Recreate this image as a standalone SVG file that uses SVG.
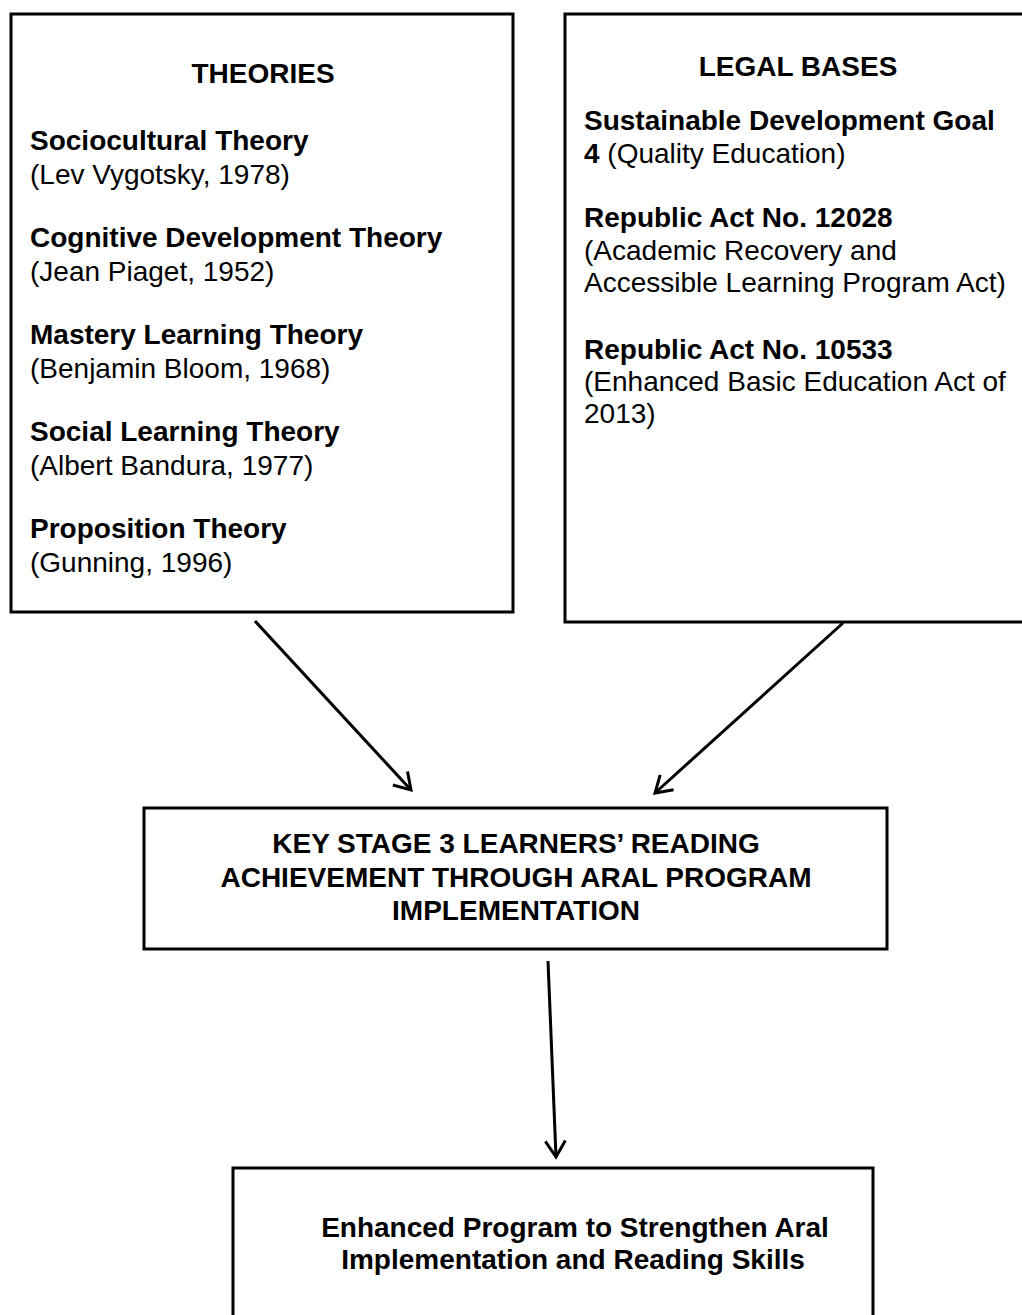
<svg xmlns="http://www.w3.org/2000/svg" width="1022" height="1315" viewBox="0 0 1022 1315">
<style>
.box{fill:#fff;stroke:#000;stroke-width:3}
text{font-family:"Liberation Sans",Arial,sans-serif;font-size:28px;fill:#000}
.b{font-weight:bold}
.c{text-anchor:middle}
.conn{stroke:#000;stroke-width:3;fill:none}
</style>
<defs>
<marker id="ah" viewBox="-20 -13 24 26" markerWidth="24" markerHeight="26" refX="0" refY="0" markerUnits="userSpaceOnUse" orient="auto">
<path d="M-16,-10 L0,0 L-16,10" fill="none" stroke="#000" stroke-width="3"/>
</marker>
</defs>
<rect width="1022" height="1315" fill="#fff"/>
<g id="theories">
<rect class="box" x="11" y="14" width="502" height="598"/>
<text class="b c" x="263" y="83">THEORIES</text>
<text class="b" x="30" y="150">Sociocultural Theory</text>
<text x="30" y="184">(Lev Vygotsky, 1978)</text>
<text class="b" x="30" y="247">Cognitive Development Theory</text>
<text x="30" y="281">(Jean Piaget, 1952)</text>
<text class="b" x="30" y="344">Mastery Learning Theory</text>
<text x="30" y="378">(Benjamin Bloom, 1968)</text>
<text class="b" x="30" y="441">Social Learning Theory</text>
<text x="30" y="475">(Albert Bandura, 1977)</text>
<text class="b" x="30" y="538">Proposition Theory</text>
<text x="30" y="572">(Gunning, 1996)</text>
</g>
<g id="legal-bases">
<rect class="box" x="565" y="14" width="480" height="608"/>
<text class="b c" x="798" y="76">LEGAL BASES</text>
<text class="b" x="584" y="130">Sustainable Development Goal</text>
<text x="584" y="163"><tspan class="b">4</tspan> (Quality Education)</text>
<text class="b" x="584" y="227">Republic Act No. 12028</text>
<text x="584" y="260">(Academic Recovery and</text>
<text x="584" y="292">Accessible Learning Program Act)</text>
<text class="b" x="584" y="359">Republic Act No. 10533</text>
<text x="584" y="391">(Enhanced Basic Education Act of</text>
<text x="584" y="423">2013)</text>
</g>
<g id="key-stage">
<rect class="box" x="144" y="808" width="743" height="141"/>
<text class="b c" x="516" y="853">KEY STAGE 3 LEARNERS’ READING</text>
<text class="b c" x="516" y="887">ACHIEVEMENT THROUGH ARAL PROGRAM</text>
<text class="b c" x="516" y="920">IMPLEMENTATION</text>
</g>
<g id="enhanced-program">
<rect class="box" x="233" y="1168" width="640" height="170"/>
<text class="b c" x="575" y="1237">Enhanced Program to Strengthen Aral</text>
<text class="b c" x="573" y="1269">Implementation and Reading Skills</text>
</g>
<g id="connectors">
<line class="conn" x1="255" y1="621" x2="411" y2="790" marker-end="url(#ah)"/>
<line class="conn" x1="843" y1="623" x2="655" y2="793" marker-end="url(#ah)"/>
<line class="conn" x1="548" y1="961" x2="556" y2="1157" marker-end="url(#ah)"/>
</g>
</svg>
